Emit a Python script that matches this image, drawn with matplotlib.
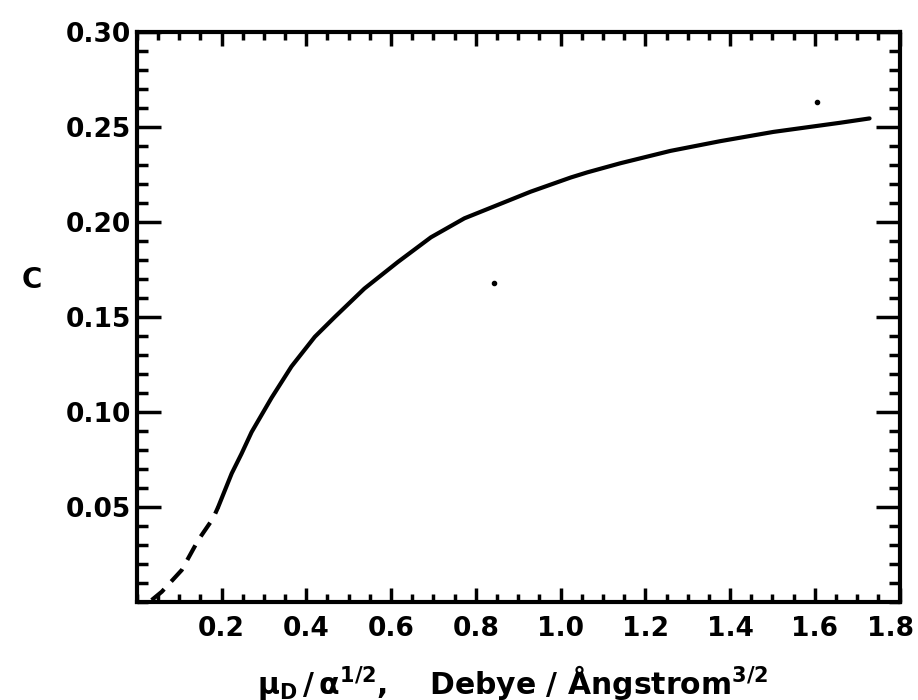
import matplotlib
matplotlib.use("Agg")
import matplotlib.pyplot as plt
import matplotlib.transforms as mtransforms
from matplotlib.ticker import MultipleLocator, FixedLocator

# values
dash_x = [0.035, 0.059, 0.106, 0.145, 0.180, 0.192]
dash_y = [0.001, 0.0054, 0.0168, 0.0326, 0.044, 0.050]

curve_x = [0.192, 0.224, 0.247, 0.271, 0.318, 0.365, 0.42, 0.467, 0.537, 0.616,
           0.694, 0.773, 0.851, 0.929, 1.024, 1.063, 1.141, 1.259, 1.376, 1.502,
           1.659, 1.729]
curve_y = [0.050, 0.0677, 0.078, 0.0895, 0.1075, 0.124, 0.1396, 0.150, 0.165, 0.179,
           0.192, 0.202, 0.209, 0.216, 0.2235, 0.2262, 0.2310, 0.2375, 0.2426, 0.2475,
           0.2523, 0.2546]

# specks on the scan
speck_x = [0.842, 1.605]
speck_y = [0.168, 0.263]

x_ticks = [0.2, 0.4, 0.6, 0.8, 1.0, 1.2, 1.4, 1.6, 1.8]
x_labels = ["0.2", "0.4", "0.6", "0.8", "1.0", "1.2", "1.4", "1.6", "1.8"]
y_ticks = [0.05, 0.10, 0.15, 0.20, 0.25, 0.30]
y_labels = ["0.05", "0.10", "0.15", "0.20", "0.25", "0.30"]

plt.rcParams["font.family"] = "DejaVu Sans"
plt.rcParams["font.weight"] = "bold"
plt.rcParams["mathtext.fontset"] = "dejavusans"

fig = plt.figure(figsize=(9.18, 7.0), dpi=100)
ax = fig.add_axes([0.149, 0.14, 0.831, 0.814])

ax.plot(curve_x, curve_y, color="black", linewidth=3, solid_capstyle="round")
ax.plot(dash_x, dash_y, color="black", linewidth=3, dashes=(4, 2.5))
ax.plot(speck_x, speck_y, "o", color="black", markersize=3)

ax.set_xlim(0, 1.8)
ax.set_ylim(0, 0.30)

ax.xaxis.set_major_locator(FixedLocator(x_ticks))
ax.set_xticklabels(x_labels)
ax.xaxis.set_minor_locator(MultipleLocator(0.05))
ax.yaxis.set_major_locator(FixedLocator(y_ticks))
ax.set_yticklabels(y_labels)
ax.yaxis.set_minor_locator(MultipleLocator(0.01))

ax.tick_params(axis="both", which="both", direction="in", top=True, right=True, color="black")
ax.tick_params(axis="x", which="major", length=10, width=2.5, pad=10, labelsize=19)
ax.tick_params(axis="x", which="minor", length=6, width=2.5)
ax.tick_params(axis="y", which="major", length=17, width=2.5, pad=4, labelsize=19)
ax.tick_params(axis="y", which="minor", length=8, width=2.5)

# last x label sits a little left of its tick so it stays inside the figure
last = ax.get_xticklabels()[-1]
last.set_transform(last.get_transform() + mtransforms.ScaledTranslation(-0.09, 0, fig.dpi_scale_trans))

for s in ax.spines.values():
    s.set_linewidth(3)

fig.text(22 / 918, 1 - 280 / 700, "C", fontsize=20, fontweight="bold", ha="left", va="center")
fig.text(512 / 918, 1 - 682 / 700,
         r"$\mathbf{\mu_D\,/\,\alpha^{1/2}}$,    Debye / Ångstrom$^{\mathbf{3/2}}$",
         fontsize=21.5, fontweight="bold", ha="center", va="center")

fig.savefig("out.png", dpi=100)
